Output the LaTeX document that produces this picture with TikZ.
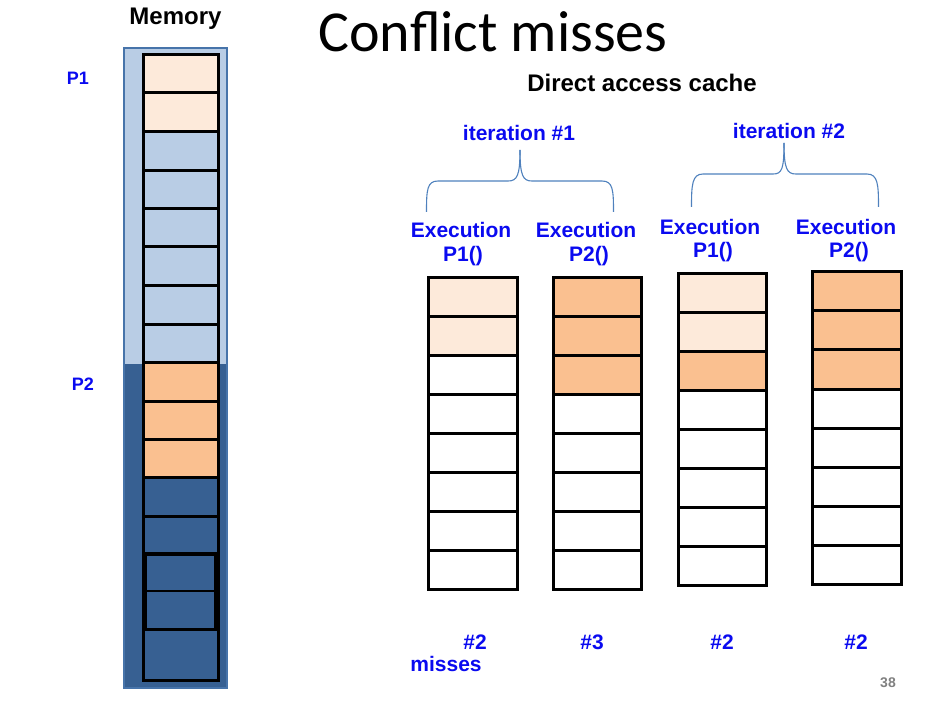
\documentclass[tikz,border=0pt]{standalone}
\usepackage{fontspec}
\setmainfont{Liberation Sans}
\newfontfamily\calib{Carlito}
\definecolor{peachL}{HTML}{FDEADA}
\definecolor{orng}{HTML}{FAC090}
\definecolor{lblue}{HTML}{B9CDE5}
\definecolor{dblue}{HTML}{376092}
\definecolor{txtblue}{HTML}{0A0AF0}
\definecolor{bracec}{HTML}{4F81BD}
\begin{document}
\begin{tikzpicture}[x=1pt,y=-1pt,
  cellbox/.style={draw=black, line width=3pt},
  lbl/.style={font=\bfseries\fontsize{21}{24}\selectfont, text=txtblue, anchor=base, inner sep=0pt},
  bracepath/.style={draw=bracec, line width=1.1pt}]
\useasboundingbox (0,0) rectangle (942,708);
% Memory column background
\fill[lblue] (124,48) rectangle (227,364);
\fill[dblue] (124,364) rectangle (227,688);
\draw[draw=bracec!90!black, line width=1.2pt] (124,48) rectangle (227,688);
% memory cells
\foreach \ya/\yb/\c in {55/93/peachL,93/132/peachL,132/171/lblue,171/209/lblue,209/247/lblue,247/286/lblue,286/325/lblue,325/363/lblue,363/401/orng,401/439/orng,439/477/orng,477/516/dblue,516/553/dblue,553/629/dblue,629/680/dblue}
  \draw[cellbox, fill=\c] (143.3,\ya) rectangle (218,\yb);
\draw[cellbox, line width=2.5pt] (145.6,555) rectangle (215.4,629.5);
\draw[cellbox, line width=2.5pt] (145.6,591) -- (215.4,591);
% cache columns
\foreach \xa/\xb/\ya/\yb/\ca/\cb/\cc in {428/517/278/589/peachL/peachL/white,553/641/278/589/orng/orng/orng,678/766/274/585/peachL/peachL/orng,812/901/272/584/orng/orng/orng}{
  \pgfmathsetmacro{\h}{(\yb-\ya)/8}
  \foreach \i in {0,...,7}{
    \pgfmathsetmacro{\yy}{\ya+\i*\h}
    \pgfmathsetmacro{\yz}{\ya+(\i+1)*\h}
    \ifnum\i=0 \def\cf{\ca}\else\ifnum\i=1 \def\cf{\cb}\else\ifnum\i=2 \def\cf{\cc}\else\def\cf{white}\fi\fi\fi
    \draw[cellbox, fill=\cf] (\xa,\yy) rectangle (\xb,\yz);
  }
}
% titles
\node[font=\bfseries\fontsize{24}{27}\selectfont, anchor=base, inner sep=0pt] (mem) at (175.5,25) {Memory};
\node[font=\calib\fontsize{58}{60}\selectfont, anchor=base, inner sep=0pt] (title) at (493,52) {Conflict misses};
\node[font=\bfseries\fontsize{24}{26}\selectfont, anchor=base, inner sep=0pt] (dac) at (642,92) {Direct access cache};
\node[lbl, font=\bfseries\fontsize{18}{20}\selectfont] (p1) at (78,85) {P1};
\node[lbl, font=\bfseries\fontsize{18}{20}\selectfont] (p2) at (83,390) {P2};
\node[lbl] (it1) at (519,141) {iteration \#1};
\node[lbl] (it2) at (789,139) {iteration \#2};
% braces
\draw[bracepath] (426.5,212) .. controls (426.5,190) and (427,181) .. (438,181) -- (508,181) .. controls (517,181) and (520,176) .. (520,150);
\draw[bracepath] (520,150) .. controls (520,176) and (523,181) .. (532,181) -- (602,181) .. controls (613,181) and (613.5,190) .. (613.5,212);
\draw[bracepath] (691.5,207) .. controls (691.5,185) and (692,174) .. (703,174) -- (773,174) .. controls (782,174) and (784,169) .. (784,143);
\draw[bracepath] (784,143) .. controls (784,169) and (787,174) .. (796,174) -- (867,174) .. controls (878,174) and (878.5,185) .. (878.5,207);
% execution labels
\node[lbl] (e1) at (461,238) {Execution};
\node[lbl] (e1p) at (463,262) {P1()};
\node[lbl] (e2) at (586,238) {Execution};
\node[lbl] (e2p) at (589,262) {P2()};
\node[lbl] (e3) at (710,235) {Execution};
\node[lbl] (e3p) at (713,258) {P1()};
\node[lbl] (e4) at (846,235) {Execution};
\node[lbl] (e4p) at (849,258) {P2()};
% misses
\node[lbl] (n1) at (475,649) {\#2};
\node[lbl] (n2) at (592,649) {\#3};
\node[lbl] (n3) at (722,649) {\#2};
\node[lbl] (n4) at (856,649) {\#2};
\node[lbl] (ms) at (446,671) {misses};
\node[font=\bfseries\fontsize{14}{16}\selectfont, text=gray, anchor=base, inner sep=0pt] (pg) at (888,687) {38};
\end{tikzpicture}
\end{document}
